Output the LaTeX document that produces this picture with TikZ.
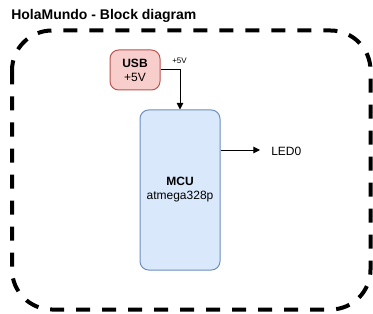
\documentclass[tikz,border=0pt]{standalone}
\usepackage{fontspec}
\setmainfont{Liberation Sans}
\usetikzlibrary{arrows.meta}
\definecolor{redfill}{HTML}{F8CECC}
\definecolor{redline}{HTML}{B85450}
\definecolor{bluefill}{HTML}{DAE8FC}
\definecolor{blueline}{HTML}{6C8EBF}
\tikzset{
  block/.style={draw, rounded corners=6.5pt, line width=0.75pt, align=center, inner sep=0pt, font=\fontsize{9}{10.5}\selectfont},
  usbbox/.style={block, fill=redfill, draw=redline, minimum width=37.5pt, minimum height=30pt},
  mcubox/.style={block, fill=bluefill, draw=blueline, minimum width=60pt, minimum height=120pt},
  wire/.style={draw, line width=0.75pt, -{Triangle[length=5pt,width=5pt]}},
  frame/.style={draw, line width=3pt, dash pattern=on 10.5pt off 9pt, rounded corners=30pt},
}
\begin{document}
\begin{tikzpicture}[x=0.75pt,y=-0.75pt]
  \useasboundingbox (0,0) rectangle (373,313);
  % enclosing frame
  \draw[frame] (12,30.5) rectangle (370.5,309.5);
  % title
  \node[anchor=west, inner sep=0pt, font=\fontsize{10.5}{12}\selectfont\bfseries] (title) at (11,16) {HolaMundo - Block diagram};
  % blocks
  \node[usbbox] (usb) at (135,70) {\textbf{USB}\\+5V};
  \node[mcubox] (mcu) at (180,190) {\textbf{MCU}\\atmega328p};
  \coordinate (led) at (260,150);
  \node[anchor=west, inner sep=0pt, font=\fontsize{9}{10.5}\selectfont] (ledlabel) at (271,151) {LED0};
  % connectors
  \draw[wire] (usb.east) -| (mcu.north);
  \node[anchor=south west, inner sep=0pt, font=\fontsize{6}{7}\selectfont] (vlabel) at (172,63.5) {+5V};
  \draw[wire] (mcu.east |- led) -- (led);
\end{tikzpicture}
\end{document}
